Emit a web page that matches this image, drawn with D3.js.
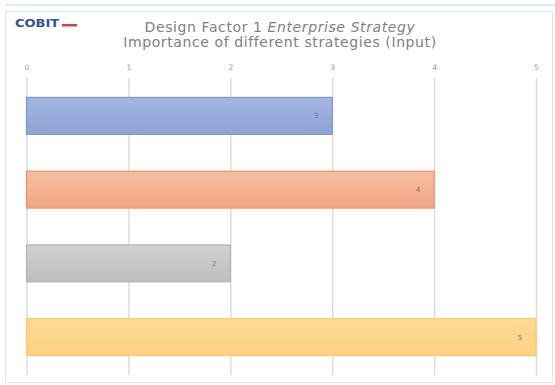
<!DOCTYPE html>
<html>
<head>
<meta charset="utf-8">
<script src="https://cdn.jsdelivr.net/npm/d3@7"></script>
<style>
  html, body { margin: 0; padding: 0; background: #ffffff; }
  svg { display: block; }
</style>
</head>
<body>
<svg id="chart" width="555" height="385"></svg>
<script>
// Design Factor 1 – importance of each enterprise strategy (input scores 1–5)
const categories = ["Growth/Acquisition", "Innovation/Differentiation", "Cost Leadership", "Client Service/Stability"];
const values = [3, 4, 2, 5];
const tickValues = [0, 1, 2, 3, 4, 5];
const titleLine1 = ["Design Factor 1", "Enterprise Strategy"];
const titleLine2 = "Importance of different strategies (Input)";

const palette = [
  { top: "#a4b5e0", bottom: "#8ea3d8", stroke: "#7b94d2" },
  { top: "#f6bda2", bottom: "#f3a884", stroke: "#f0905f" },
  { top: "#d1d1d1", bottom: "#bebebe", stroke: "#b3b3b3" },
  { top: "#fedb98", bottom: "#fdd182", stroke: "#fcc966" }
];

const svg = d3.select("#chart");
const W = 555, H = 385;
const margin = { left: 26.5, right: 19, top: 79, bottom: 11 };

// top accent line and chart frame
svg.append("line")
  .attr("x1", 5).attr("x2", W).attr("y1", 5).attr("y2", 5)
  .attr("stroke", "#cdeedd").attr("stroke-width", 1.5);
svg.append("rect")
  .attr("x", 5.5).attr("y", 11.5).attr("width", W - 8).attr("height", 371)
  .attr("fill", "#ffffff").attr("stroke", "#e4e4e4").attr("stroke-width", 1);

// defs: vertical gradients for the bars
const defs = svg.append("defs");
palette.forEach((p, i) => {
  const g = defs.append("linearGradient")
    .attr("id", "grad" + i).attr("x1", 0).attr("x2", 0).attr("y1", 0).attr("y2", 1);
  g.append("stop").attr("offset", "0%").attr("stop-color", p.top);
  g.append("stop").attr("offset", "100%").attr("stop-color", p.bottom);
});

const x = d3.scaleLinear().domain([0, 5]).range([margin.left, W - margin.right]);
const y = d3.scaleBand().domain(categories).range([margin.top, H - margin.bottom]).paddingInner(0.5).paddingOuter(0.25);

// logo
const logo = svg.append("g").attr("transform", "translate(15,27)");
logo.append("text")
  .attr("x", 0).attr("y", 0)
  .attr("transform", "scale(1.3,1)")
  .attr("font-family", "'DejaVu Sans', sans-serif")
  .attr("font-weight", "bold").attr("font-size", 10)
  .attr("fill", "#30509a")
  .text("COBIT");
logo.append("rect")
  .attr("x", 47).attr("y", -3).attr("width", 15).attr("height", 2.5)
  .attr("fill", "#d9404f");

// title (line 1: plain part + italic part, laid out side by side)
const titleFont = "'DejaVu Sans', sans-serif";
const titleColor = "#808080";
const titleSize = 14;
const titleSpacing = 0.6;
const tg = svg.append("g");
const tA = tg.append("text").attr("y", 31.5)
  .attr("font-family", titleFont).attr("font-size", titleSize).attr("fill", titleColor)
  .attr("letter-spacing", titleSpacing)
  .text(titleLine1[0]);
const tB = tg.append("text").attr("y", 31.5)
  .attr("font-family", titleFont).attr("font-size", titleSize).attr("fill", titleColor)
  .attr("letter-spacing", titleSpacing)
  .attr("font-style", "italic")
  .text(titleLine1[1]);
const gap = 5;
const wA = tA.node().getComputedTextLength();
const wB = tB.node().getComputedTextLength();
const startX = 280 - (wA + gap + wB) / 2;
tA.attr("x", startX);
tB.attr("x", startX + wA + gap);

svg.append("text")
  .attr("x", 280).attr("y", 47)
  .attr("text-anchor", "middle")
  .attr("font-family", titleFont).attr("font-size", titleSize)
  .attr("letter-spacing", titleSpacing)
  .attr("fill", titleColor)
  .text(titleLine2);

// vertical gridlines + top tick labels
const axis = d3.axisTop(x).tickValues(tickValues).tickSize(-(H - margin.bottom - margin.top + 2)).tickFormat(d3.format("d"));
const ax = svg.append("g").attr("transform", `translate(0,${margin.top - 1})`).call(axis);
ax.select(".domain").remove();
ax.selectAll(".tick line").attr("stroke", "#dcdcdc").attr("stroke-width", 1.5);
ax.selectAll(".tick text")
  .attr("y", -8)
  .attr("font-family", titleFont).attr("font-size", 7.5)
  .attr("fill", "#9a9a9a");

// bars
svg.append("g").selectAll("rect")
  .data(values)
  .join("rect")
  .attr("x", x(0))
  .attr("y", (d, i) => y(categories[i]))
  .attr("width", d => x(d) - x(0))
  .attr("height", y.bandwidth())
  .attr("fill", (d, i) => `url(#grad${i})`)
  .attr("stroke", (d, i) => palette[i].stroke)
  .attr("stroke-width", 1.2);

// value labels inside the bar ends
svg.append("g").selectAll("text")
  .data(values)
  .join("text")
  .attr("x", d => x(d) - 16)
  .attr("y", (d, i) => y(categories[i]) + y.bandwidth() / 2 + 2.5)
  .attr("text-anchor", "middle")
  .attr("font-family", titleFont).attr("font-size", 7)
  .attr("fill", "#707070")
  .text(d => d);
</script>
</body>
</html>
